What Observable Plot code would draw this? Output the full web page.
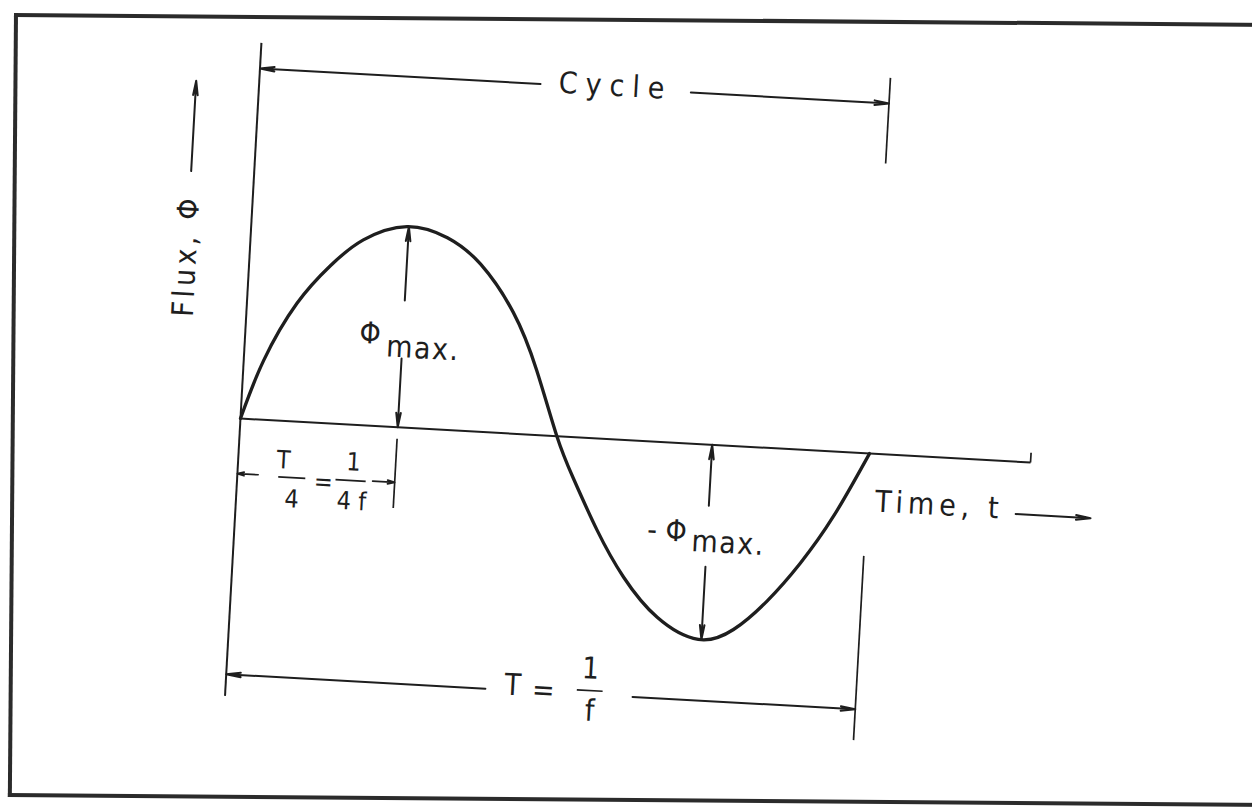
<!DOCTYPE html>
<html><head><meta charset="utf-8">
<script src="https://cdn.jsdelivr.net/npm/d3@7"></script>
<script src="https://cdn.jsdelivr.net/npm/@observablehq/plot@0.6"></script>
<style>
html,body{margin:0;padding:0;background:#fff;overflow:hidden;width:1252px;height:807px;}
#frame{position:absolute;left:14px;top:13px;width:1270px;height:776px;border-top:4px solid #2b2b2b;border-left:4px solid #2b2b2b;border-bottom:4px solid #2b2b2b;transform-origin:0 0;transform:rotate(0.45deg);}
#chart{position:absolute;left:0;top:0;}
#chart svg{transform-origin:240px 418px;transform:rotate(3.19deg);overflow:visible;}
</style></head><body>
<div id="frame"></div><div id="chart"></div>
<script>
// ---- Data (t in periods T, phi in units of phi_max) ----
const waveT   = [0, 0.0315, 0.0794, 0.129, 0.179, 0.247, 0.312, 0.367, 0.423, 0.465, 0.503, 0.533, 0.575, 0.621, 0.678, 0.745, 0.800, 0.851, 0.900, 0.949, 1.0];
const wavePhi = [0, 0.30, 0.60, 0.80, 0.94, 1.02, 0.975, 0.85, 0.615, 0.33, 0, -0.21, -0.465, -0.695, -0.89, -0.99, -0.93, -0.775, -0.575, -0.325, 0];

// plain line segments [t1, phi1, t2, phi2]
const axisSegments = [
  [0, 0, 1.256, 0],          // time axis
  [0, 1.91, 0, -1.41]        // flux axis
];
const guideSegments = [
  [1.256, 0, 1.256, 0.05],   // end tick of time axis
  [1, 1.91, 1, 1.475],       // cycle extension line
  [1, -0.52, 1, -1.457],     // period extension line
  [0.25, -0.058, 0.25, -0.41], // quarter-period extension line
  [0.065, -0.285, 0.108, -0.285], // fraction bar T/4
  [0.156, -0.283, 0.204, -0.283], // fraction bar 1/4f
  [0.557, -1.28, 0.598, -1.28]    // fraction bar 1/f
];
// arrows [t1, phi1, t2, phi2] (head at the second point)
const bigArrows = [
  [0.446, 1.78, 0, 1.78], [0.685, 1.78, 1, 1.78],        // Cycle
  [0.412, -1.30, 0, -1.30], [0.646, -1.30, 1, -1.30],    // T = 1/f
  [1.237, -0.265, 1.356, -0.265],                        // Time, t
  [-0.10, 1.24, -0.10, 1.70],                            // Flux
  [0.25, 0.645, 0.25, 1.02], [0.25, 0.35, 0.25, 0],      // phi max
  [0.75, -0.31, 0.75, 0], [0.75, -0.62, 0.75, -0.99]     // -phi max
];
const smallArrows = [
  [0.033, -0.28, 0, -0.28], [0.215, -0.28, 0.25, -0.28]  // T/4
];
// labels
const mainLabels   = ["Φ", "max.", "- Φ", "max.", "T", "=", "1", "f"];
const mainLabelT   = [0.198, 0.283, 0.686, 0.784, 0.455, 0.504, 0.577, 0.579];
const mainLabelPhi = [0.466, 0.405, -0.449, -0.495, -1.276, -1.293, -1.17, -1.385];
const cycleLabel = "Cycle", cycleLabelT = 0.565, cycleLabelPhi = 1.79;
const timeLabel = "Time, t", timeLabelT = 1.013, timeLabelPhi = -0.243;
const fluxLabel = "Flux, Φ", fluxLabelT = -0.10, fluxLabelPhi = 0.81;
const quarterLabels   = ["T", "4", "=", "1", "4 f"];
const quarterLabelT   = [0.072, 0.088, 0.137, 0.183, 0.183];
const quarterLabelPhi = [-0.20, -0.396, -0.30, -0.19, -0.39];

// ---- build tables ----
const seg = a => a.map(([t1, p1, t2, p2]) => ({t1, p1, t2, p2}));
const wave = waveT.map((t, i) => ({t, phi: wavePhi[i]}));
const mainTbl = mainLabels.map((s, i) => ({s, t: mainLabelT[i], phi: mainLabelPhi[i]}));
const quarterTbl = quarterLabels.map((s, i) => ({s, t: quarterLabelT[i], phi: quarterLabelPhi[i]}));

const INK = "#1e1e1e";
const FONT = "'DejaVu Sans Condensed', 'Liberation Sans Narrow', 'DejaVu Sans', sans-serif";

const chart = Plot.plot({
  width: 1252, height: 807, margin: 0,
  x: {domain: [0, 1], range: [240, 870], axis: null},
  y: {domain: [-1, 1], range: [615, 221], axis: null},
  style: {fontFamily: FONT, color: INK, background: "transparent"},
  marks: [
    Plot.link(seg(axisSegments), {x1: "t1", y1: "p1", x2: "t2", y2: "p2", stroke: INK, strokeWidth: 2}),
    Plot.link(seg(guideSegments), {x1: "t1", y1: "p1", x2: "t2", y2: "p2", stroke: INK, strokeWidth: 1.7}),
    Plot.arrow(seg(bigArrows), {x1: "t1", y1: "p1", x2: "t2", y2: "p2", stroke: INK, strokeWidth: 2, headAngle: 18, headLength: 11}),
    Plot.arrow(seg(smallArrows), {x1: "t1", y1: "p1", x2: "t2", y2: "p2", stroke: INK, strokeWidth: 1.7, headAngle: 30, headLength: 7}),
    Plot.line(wave, {x: "t", y: "phi", curve: "natural", stroke: INK, strokeWidth: 3.3}),
    Plot.text(mainTbl, {x: "t", y: "phi", text: "s", fontSize: 30, fill: INK}),
    Plot.text(quarterTbl, {x: "t", y: "phi", text: "s", fontSize: 25, fill: INK}),
    Plot.text([cycleLabel], {x: cycleLabelT, y: cycleLabelPhi, text: d => d, fontSize: 30, fill: INK}),
    Plot.text([timeLabel], {x: timeLabelT, y: timeLabelPhi, text: d => d, fontSize: 30, textAnchor: "start", fill: INK}),
    Plot.text([fluxLabel], {x: fluxLabelT, y: fluxLabelPhi, text: d => d, fontSize: 30, rotate: -90, fill: INK})
  ]
});
document.getElementById("chart").appendChild(chart);
d3.select(chart).selectAll("text").each(function() {
  const s = this.textContent;
  if (s === "Cycle") this.setAttribute("letter-spacing", "8");
  if (s === "Time, t") this.setAttribute("letter-spacing", "5");
  if (s === "Flux, Φ") this.setAttribute("letter-spacing", "4");
  if (s === "max.") this.setAttribute("letter-spacing", "1.5");
});
</script></body></html>
